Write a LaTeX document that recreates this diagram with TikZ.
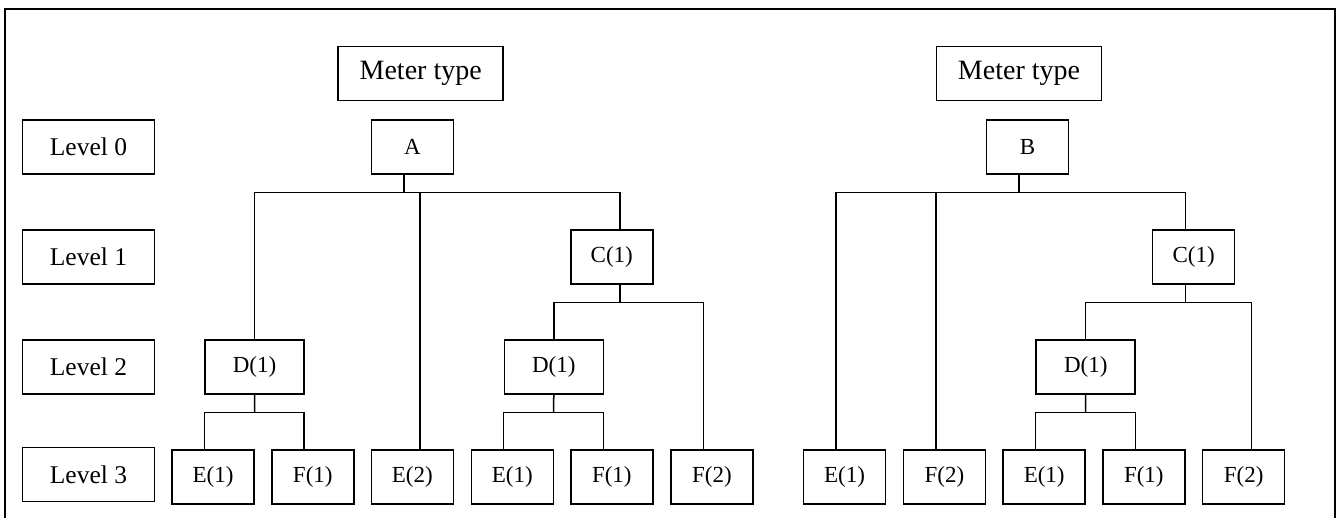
\documentclass[tikz,border=0pt]{standalone}
\usepackage{fontspec}
\setmainfont{Liberation Serif}
\usetikzlibrary{calc}
\begin{document}
\begin{tikzpicture}[x=1pt,y=-1pt,
  box/.style={draw, line width=1.5pt, inner sep=0pt, minimum height=54pt, anchor=center},
  lvl/.style={box, minimum width=132pt, font=\fontsize{25.5}{30}\selectfont},
  meter/.style={box, minimum width=165pt, font=\fontsize{28}{32}\selectfont},
  leaf/.style={box, minimum width=82pt, font=\fontsize{23}{27}\selectfont},
  mid/.style={box, minimum width=99pt, font=\fontsize{23}{27}\selectfont},
  conn/.style={draw, line width=1.5pt}]
\useasboundingbox (0,0) rectangle (1337,518);
\draw[line width=1.5pt] (5,520) -- (5,9) -- (1335,9) -- (1335,520);

% level labels
\node[lvl] (L0) at (88.5,146.8) {Level 0};
\node[lvl] (L1) at (88.5,257) {Level 1};
\node[lvl] (L2) at (88.5,367) {Level 2};
\node[lvl] (L3) at (88.5,474.5) {Level 3};

% left tree
\node[meter] (MTa) at (420.7,73.3) {Meter type};
\node[leaf] (A) at (412.3,146.8) {A};
\node[leaf] (Ca) at (611.8,257) {C(1)};
\node[mid] (Da) at (254.5,367) {D(1)};
\node[mid] (Db) at (553.8,367) {D(1)};
\node[leaf] (Ea) at (213,476.8) {E(1)};
\node[leaf] (Fa) at (312.8,476.8) {F(1)};
\node[leaf] (E2a) at (412.3,476.8) {E(2)};
\node[leaf] (Eb) at (512.3,476.8) {E(1)};
\node[leaf] (Fb) at (611.8,476.8) {F(1)};
\node[leaf] (F2b) at (712,476.8) {F(2)};

% right tree
\node[meter] (MTb) at (1019,73.3) {Meter type};
\node[leaf] (B) at (1027.5,146.8) {B};
\node[leaf] (Cc) at (1193.7,257) {C(1)};
\node[mid] (Dc) at (1085.7,367) {D(1)};
\node[leaf] (Ec) at (844.5,476.8) {E(1)};
\node[leaf] (F2c) at (944.5,476.8) {F(2)};
\node[leaf] (Ed) at (1044.2,476.8) {E(1)};
\node[leaf] (Fd) at (1143.8,476.8) {F(1)};
\node[leaf] (F2d) at (1243.7,476.8) {F(2)};

% bus coordinates
\coordinate (busA) at (404,192.3);
\coordinate (busC) at (620,302.3);
\coordinate (busDa) at (254.7,412.3);
\coordinate (busDb) at (553.5,412.3);
\coordinate (busB) at (1019,192.3);
\coordinate (busCc) at (1185.3,302.3);
\coordinate (busDc) at (1085.5,412.3);

% left connectors
\draw[conn] ($(A.south)+(-8.3,0)$) -- (busA);
\draw[conn] (Da.north) |- (busA) -| ($(Ca.north)+(8.2,0)$);
\draw[conn] ($(E2a.north)+(7.7,0)$) |- (busA);
\draw[conn] (Da.south) -- (busDa);
\draw[conn] ($(Ea.north)+(-8.7,0)$) |- (busDa) -| ($(Fa.north)+(-8.8,0)$);
\draw[conn] ($(Ca.south)+(8.2,0)$) -- (busC);
\draw[conn] (Db.north) |- (busC) -| ($(F2b.north)+(-8.7,0)$);
\draw[conn] (Db.south) -- (busDb);
\draw[conn] ($(Eb.north)+(-9,0)$) |- (busDb) -| ($(Fb.north)+(-8.1,0)$);

% right connectors
\draw[conn] ($(B.south)+(-8.5,0)$) -- (busB);
\draw[conn] ($(Ec.north)+(-8.5,0)$) |- (busB) -| ($(Cc.north)+(-8.4,0)$);
\draw[conn] ($(F2c.north)+(-8.5,0)$) |- (busB);
\draw[conn] ($(Cc.south)+(-8.4,0)$) -- (busCc);
\draw[conn] (Dc.north) |- (busCc) -| ($(F2d.north)+(8,0)$);
\draw[conn] (Dc.south) -- (busDc);
\draw[conn] ($(Ed.north)+(-8.9,0)$) |- (busDc) -| ($(Fd.north)+(-8.5,0)$);
\end{tikzpicture}
\end{document}
